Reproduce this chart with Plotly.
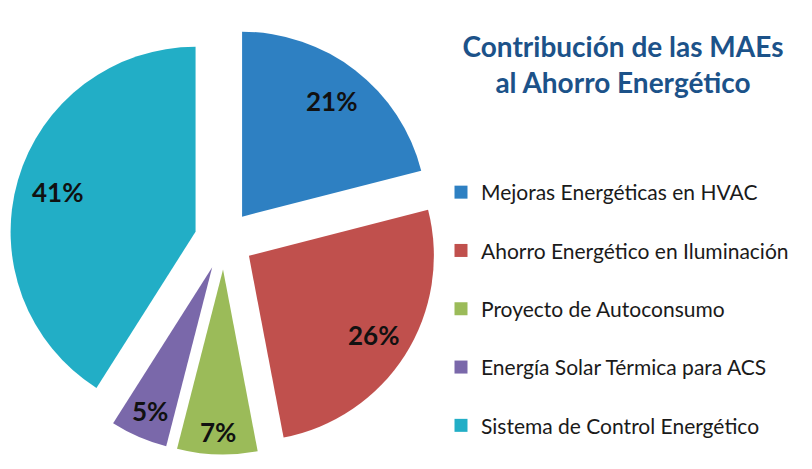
import math
import plotly.graph_objects as go

# Contribución de cada medida de ahorro energético (MAE)
categorias = [
    "Mejoras Energéticas en HVAC",
    "Ahorro Energético en Iluminación",
    "Proyecto de Autoconsumo",
    "Energía Solar Térmica para ACS",
    "Sistema de Control Energético",
]
porcentajes = [21, 26, 7, 5, 41]
colores = ["#2E80C2", "#C0504D", "#9BBB59", "#7A68AA", "#22AEC6"]

titulo = "Contribución de las MAEs<br>al Ahorro Energético"

# Pie geometry (figure pixels)
ANCHO, ALTO = 812, 469
DOM_X = [0.0116, 0.540]
DOM_Y = [0.0307, 0.9458]
PULL = 0.16
# radial position of each percentage label, as a fraction of the radius
POS_ETIQUETA = [0.79, 0.80, 0.88, 0.85, 0.78]

fig = go.Figure()

fig.add_trace(go.Pie(
    labels=categorias,
    values=porcentajes,
    sort=False,
    direction="clockwise",
    rotation=0,
    pull=[PULL] * len(porcentajes),
    marker=dict(colors=colores, line=dict(width=0)),
    textinfo="none",
    domain=dict(x=DOM_X, y=DOM_Y),
    showlegend=False,
    hoverinfo="label+percent",
))

# Percentage labels placed along each slice's bisector
w = (DOM_X[1] - DOM_X[0]) * ANCHO
h = (DOM_Y[1] - DOM_Y[0]) * ALTO
radio = min(w, h) / (2 + 2 * PULL)
cx = (DOM_X[0] + DOM_X[1]) / 2 * ANCHO
cy = (1 - (DOM_Y[0] + DOM_Y[1]) / 2) * ALTO
total = sum(porcentajes)
acum = 0
for valor, frac in zip(porcentajes, POS_ETIQUETA):
    medio = 2 * math.pi * (acum + valor / 2) / total
    acum += valor
    dx, dy = math.sin(medio), -math.cos(medio)
    r = radio * (PULL + frac)
    px = cx + r * dx
    py = cy + r * dy
    fig.add_annotation(
        x=px / ANCHO, y=1 - py / ALTO, xref="paper", yref="paper",
        text=f"<b>{valor}%</b>", showarrow=False,
        xanchor="center", yanchor="middle",
        font=dict(family="Lato", size=26, color="#111111"),
    )

# Legend entries: one square swatch per category, each in its own group
for nombre, color in zip(categorias, colores):
    fig.add_trace(go.Scatter(
        x=[None], y=[None],
        mode="markers",
        marker=dict(symbol="square", size=13, color=color),
        name=nombre,
        legendgroup=nombre,
        showlegend=True,
        hoverinfo="skip",
    ))

fig.update_layout(
    width=ANCHO,
    height=ALTO,
    margin=dict(l=0, r=0, t=0, b=0),
    paper_bgcolor="white",
    plot_bgcolor="white",
    xaxis=dict(visible=False),
    yaxis=dict(visible=False),
    title=dict(
        text=titulo,
        x=623 / ANCHO,
        xanchor="center",
        y=1 - 57 / ALTO,
        yanchor="middle",
        font=dict(family="Lato", size=28, color="#1C5289", weight="bold"),
    ),
    legend=dict(
        x=441 / ANCHO,
        xanchor="left",
        y=1 - 172 / ALTO,
        yanchor="top",
        font=dict(family="Lato", size=21, color="#1a1a1a"),
        tracegroupgap=28,
        bgcolor="rgba(0,0,0,0)",
        itemclick=False,
        itemdoubleclick=False,
    ),
)

fig.write_html("out.html")
